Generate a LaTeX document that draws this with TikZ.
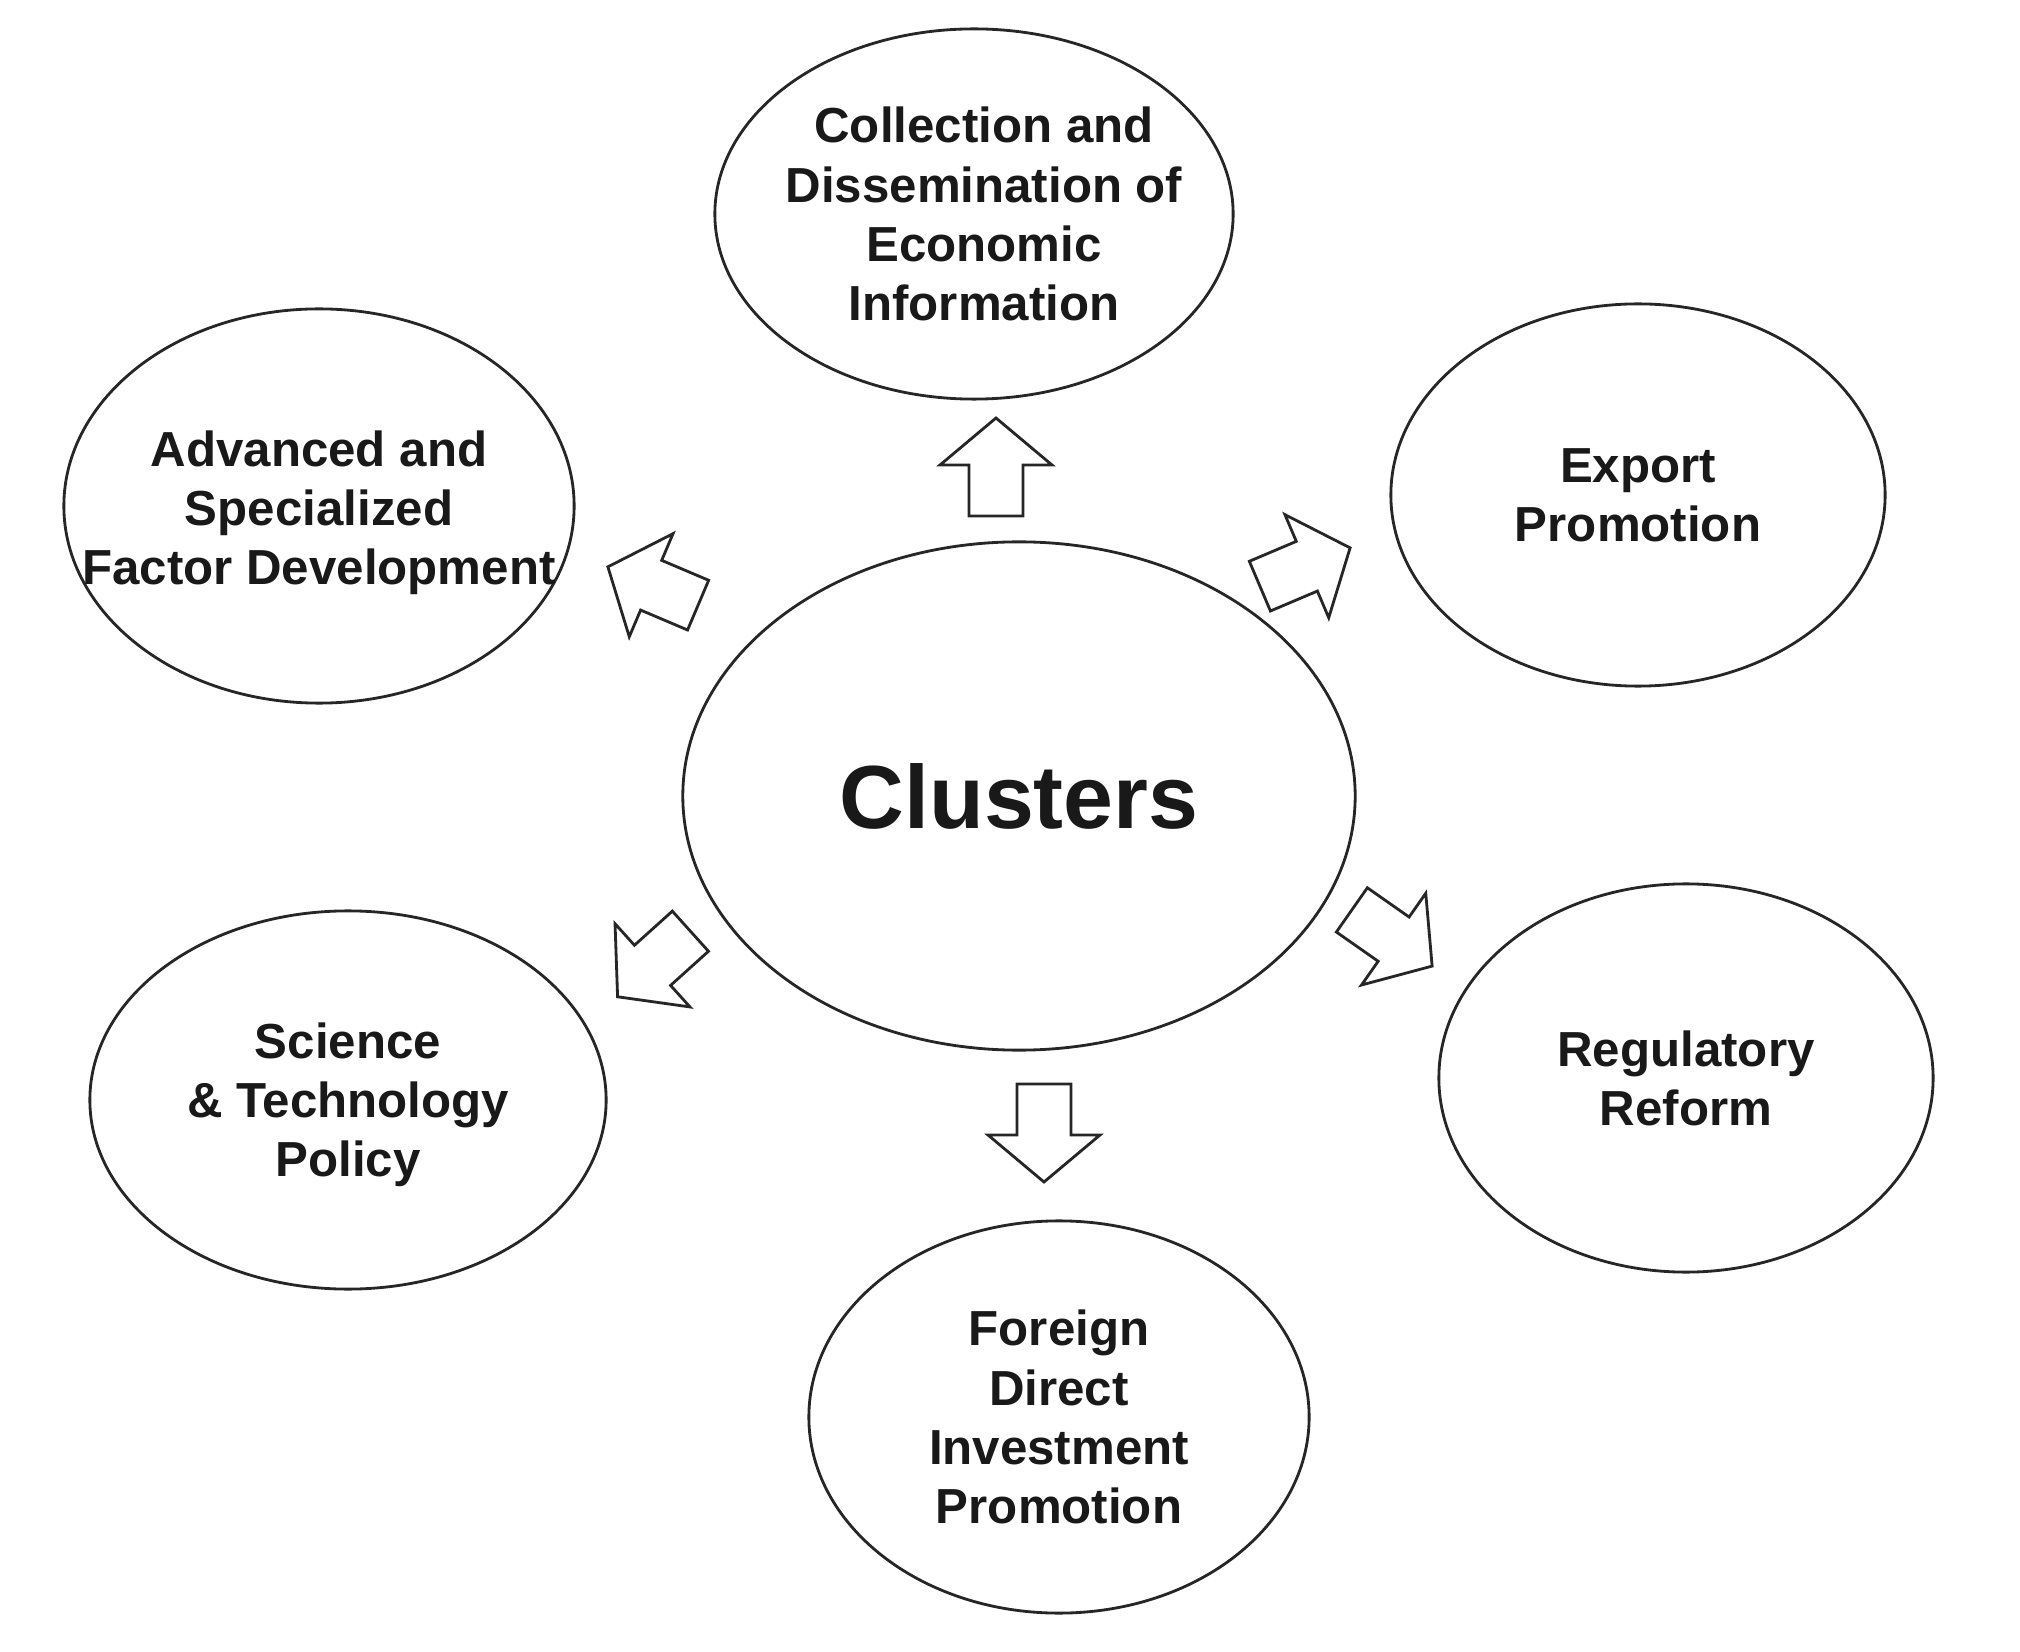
\documentclass[tikz,border=0pt]{standalone}
\usepackage{fontspec}
\setmainfont{Liberation Sans}
\usetikzlibrary{shapes.geometric}
\newcommand\blockarrow[3]{%
  \draw[blk, shift={(#1,#2)}, rotate=#3]
    (-49,-27) -- (2,-27) -- (2,-56) -- (49,0) -- (2,56) -- (2,27) -- (-49,27) -- cycle;}
\begin{document}
\begin{tikzpicture}[x=0.01cm,y=-0.01cm,
  bubble/.style={draw=black!85, line width=0.8pt, ellipse, inner sep=0pt},
  lbl/.style={align=center, inner sep=0pt, font=\fontsize{14pt}{16.8pt}\selectfont\bfseries, text=black!90},
  big/.style={inner sep=0pt, font=\fontsize{25.5pt}{30pt}\selectfont\bfseries, text=black!90},
  blk/.style={draw=black!85, line width=0.8pt, fill=white, line join=miter}]
\useasboundingbox (0,0) rectangle (2020,1652);

% ellipses
\node[bubble, minimum width=6.72cm, minimum height=5.08cm] (clu) at (1019,796) {};
\node[bubble, minimum width=5.18cm, minimum height=3.70cm] (col) at (974,214) {};
\node[bubble, minimum width=5.10cm, minimum height=3.94cm] (adv) at (319,506) {};
\node[bubble, minimum width=4.94cm, minimum height=3.82cm] (exp) at (1638,495) {};
\node[bubble, minimum width=5.16cm, minimum height=3.78cm] (sci) at (348,1100) {};
\node[bubble, minimum width=4.94cm, minimum height=3.88cm] (reg) at (1686,1078) {};
\node[bubble, minimum width=5.00cm, minimum height=3.92cm] (fdi) at (1059,1417) {};

% texts
\node[big] (clu-t) at (clu) {Clusters};
\node[lbl] (col-t) at ([xshift=0.1cm]col.center) {Collection and\\Dissemination of\\Economic\\Information};
\node[lbl] (adv-t) at ([yshift=-0.07cm]adv.center) {Advanced and\\Specialized\\Factor Development};
\node[lbl] (exp-t) at (exp) {Export\\Promotion};
\node[lbl] (sci-t) at ([yshift=-0.05cm]sci.center) {Science\\\& Technology\\Policy};
\node[lbl] (reg-t) at (reg) {Regulatory\\Reform};
\node[lbl] (fdi-t) at (fdi) {Foreign\\Direct\\Investment\\Promotion};

% block arrows
\blockarrow{996}{467}{90}
\blockarrow{1044}{1133}{-90}
\blockarrow{1305}{567}{23}
\blockarrow{653}{586}{157}
\blockarrow{654}{964}{222}
\blockarrow{1392}{938}{-35}
\end{tikzpicture}
\end{document}
